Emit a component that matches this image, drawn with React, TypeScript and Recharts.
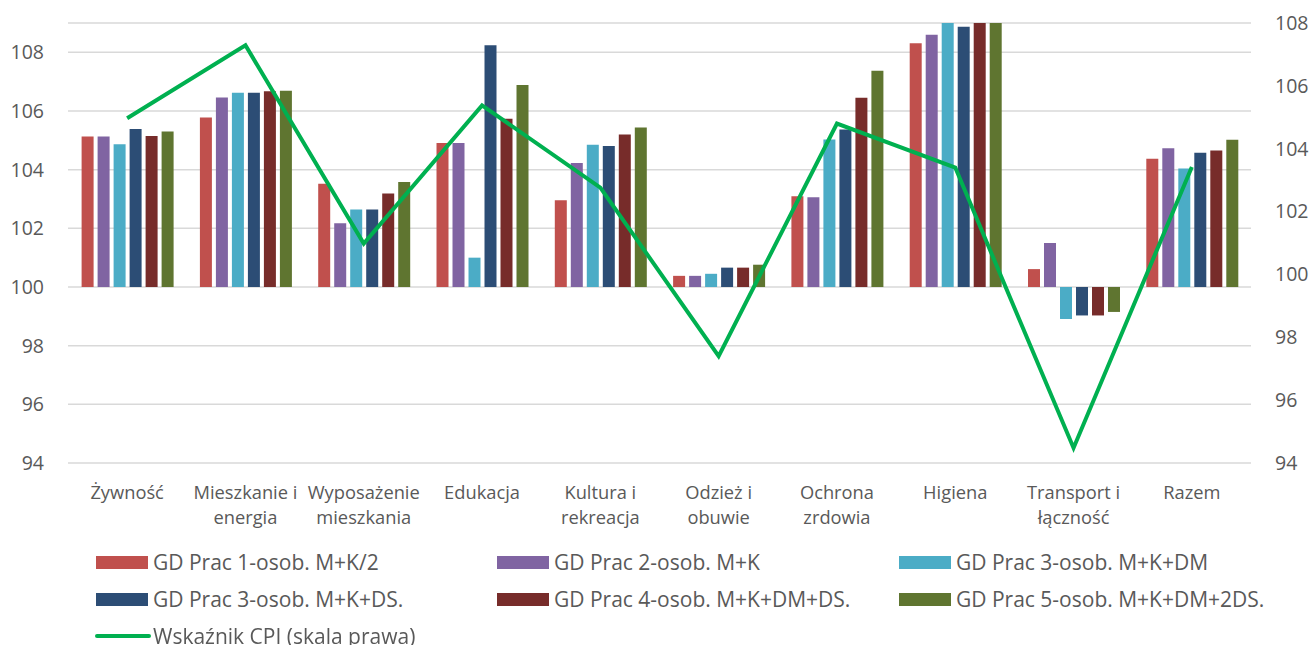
import React from 'react';
import { ComposedChart, Bar, Line, XAxis, YAxis, CartesianGrid, Legend } from 'recharts';

const categories = [
  'Żywność',
  'Mieszkanie i\nenergia',
  'Wyposażenie\nmieszkania',
  'Edukacja',
  'Kultura i\nrekreacja',
  'Odzież i\nobuwie',
  'Ochrona\nzrdowia',
  'Higiena',
  'Transport i\nłączność',
  'Razem',
];

const gd1 = [105.13, 105.78, 103.52, 104.91, 102.96, 100.38, 103.09, 108.31, 100.61, 104.37];
const gd2 = [105.13, 106.46, 102.17, 104.91, 104.23, 100.38, 103.06, 108.6, 101.5, 104.73];
const gd3dm = [104.87, 106.62, 102.64, 101.0, 104.85, 100.45, 105.03, 109.0, 98.91, 104.04];
const gd3ds = [105.39, 106.62, 102.64, 108.24, 104.81, 100.66, 105.37, 108.87, 99.03, 104.58];
const gd4 = [105.15, 106.67, 103.19, 105.74, 105.2, 100.66, 106.45, 109.0, 99.03, 104.65];
const gd5 = [105.3, 106.69, 103.58, 106.89, 105.44, 100.76, 107.37, 109.0, 99.15, 105.02];
const cpi = [104.97, 107.29, 100.98, 105.38, 102.76, 97.4, 104.8, 103.4, 94.48, 103.42];

const leftTicks = [94, 96, 98, 100, 102, 104, 106, 108];
const rightTicks = [94, 96, 98, 100, 102, 104, 106, 108];
const BASE = 100;

const seriesNames = [
  'GD Prac 1-osob. M+K/2',
  'GD Prac 2-osob. M+K',
  'GD Prac 3-osob. M+K+DM',
  'GD Prac 3-osob. M+K+DS.',
  'GD Prac 4-osob. M+K+DM+DS.',
  'GD Prac 5-osob. M+K+DM+2DS.',
];
const cpiName = 'Wskaźnik CPI (skala prawa)';
const seriesValues = [gd1, gd2, gd3dm, gd3ds, gd4, gd5];
const colors = ['#C0504D', '#8064A2', '#4BACC6', '#2C4D75', '#772C2A', '#5F7530'];
const lineColor = '#00B050';

const data = categories.map((c, i) => {
  const row: any = { name: c, cpi: cpi[i] };
  seriesValues.forEach((arr, k) => {
    row['s' + k] = [BASE, arr[i]];
  });
  return row;
});

const FONT = "'Open Sans', sans-serif";
const TXT = '#595959';
const W = 1314;
const H = 645;

const CatTick = (props: any) => {
  const { x, y, payload } = props;
  const lines = String(payload.value).split('\n');
  return (
    <text x={x} y={y} textAnchor="middle" fill={TXT} fontSize={18.3} fontFamily={FONT}>
      {lines.map((l, i) => (
        <tspan key={i} x={x} dy={i === 0 ? 36 : 25}>
          {l}
        </tspan>
      ))}
    </text>
  );
};

const LegendContent = () => {
  const cols = [96, 497, 899];
  const rows = [22, 59, 96];
  const items = seriesNames.map((n, i) => ({ name: n, color: colors[i], type: 'rect' }));
  const all = [...items, { name: cpiName, color: lineColor, type: 'line' }];
  return (
    <div style={{ position: 'relative', width: W, height: 105 }}>
      {all.map((it, i) => {
        const cx = cols[i % 3];
        const cy = rows[Math.floor(i / 3)];
        return (
          <div key={i}>
            {it.type === 'rect' ? (
              <div
                style={{ position: 'absolute', left: cx, top: cy - 6.5, width: 52, height: 13, background: it.color }}
              />
            ) : (
              <div
                style={{
                  position: 'absolute',
                  left: cx - 1,
                  top: cy - 2,
                  width: 56,
                  height: 4,
                  borderRadius: 2,
                  background: it.color,
                }}
              />
            )}
            <div
              style={{
                position: 'absolute',
                left: cx + 57,
                top: cy - 14,
                height: 28,
                lineHeight: '28px',
                fontSize: 21,
                fontFamily: FONT,
                color: TXT,
                whiteSpace: 'nowrap',
              }}
            >
              {it.name}
            </div>
          </div>
        );
      })}
    </div>
  );
};

export default function App() {
  return (
    <div style={{ position: 'fixed', left: 0, top: 0, width: W, height: H, background: '#fff' }}>
      <ComposedChart
        width={W}
        height={H}
        data={data}
        margin={{ top: 23, right: 0, bottom: 0, left: 0 }}
        barGap={4}
        barCategoryGap="11.5%"
      >
        <CartesianGrid yAxisId="left" vertical={false} stroke="#D9D9D9" strokeWidth={1.5} />
        <XAxis
          dataKey="name"
          height={77}
          axisLine={false}
          tickLine={false}
          tickSize={0}
          tickMargin={0}
          interval={0}
          tick={<CatTick />}
        />
        <YAxis
          yAxisId="left"
          orientation="left"
          width={68}
          domain={[94, 109]}
          ticks={leftTicks}
          allowDataOverflow
          axisLine={false}
          tickLine={false}
          tickSize={0}
          tickMargin={24}
          tick={{ fill: TXT, fontSize: 19.5, fontFamily: FONT }}
        />
        <YAxis
          yAxisId="right"
          orientation="right"
          width={63}
          domain={[94, 108]}
          ticks={rightTicks}
          allowDataOverflow
          axisLine={false}
          tickLine={false}
          tickSize={0}
          tickMargin={24}
          tick={{ fill: TXT, fontSize: 19.5, fontFamily: FONT, textAnchor: 'start' }}
        />
        {seriesNames.map((n, k) => (
          <Bar
            key={n}
            yAxisId="left"
            dataKey={'s' + k}
            name={n}
            fill={colors[k]}
            isAnimationActive={false}
          />
        ))}
        <Line
          yAxisId="right"
          type="linear"
          dataKey="cpi"
          name={cpiName}
          stroke={lineColor}
          strokeWidth={4}
          dot={false}
          activeDot={false}
          isAnimationActive={false}
        />
        <Legend
          verticalAlign="bottom"
          content={<LegendContent />}
          wrapperStyle={{ position: 'absolute', left: 0, top: 540, width: W, height: 105 }}
        />
      </ComposedChart>
    </div>
  );
}
